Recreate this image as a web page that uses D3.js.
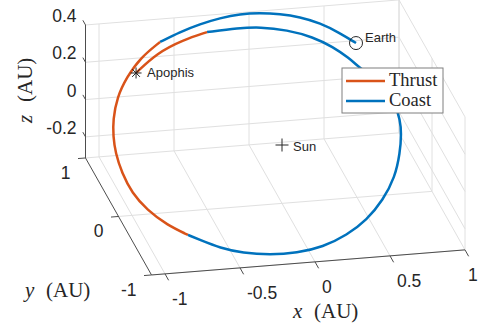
<!DOCTYPE html>
<html lang="en">
<head>
<meta charset="utf-8">
<title>Earth to Apophis transfer</title>
<script src="https://cdn.jsdelivr.net/npm/d3@7"></script>
<style>
  body { margin: 0; background: #fff; }
  svg { display: block; }
  .tick-label { font-family: "Liberation Sans", Arial, sans-serif; font-size: 17.5px; fill: #262626; }
  .body-label { font-family: "Liberation Sans", Arial, sans-serif; font-size: 13px; fill: #262626; }
  .tex { font-family: "Liberation Serif", "Times New Roman", serif; fill: #262626; }
</style>
</head>
<body>
<svg width="479" height="333"></svg>
<script>
// axis limits and ticks (AU)
const xLim = [-1.09, 1];
const yLim = [-1, 1];
const zLim = [-0.313, 0.4];
const xTicks = [-1, -0.5, 0, 0.5, 1];
const yTicks = [-1, 0, 1];
const zTicks = [-0.2, 0, 0.2, 0.4];
const xTickLabels = ["-1", "-0.5", "0", "0.5", "1"];
const yTickLabels = ["-1", "0", "1"];
const zTickLabels = ["-0.2", "0", "0.2", "0.4"];

// trajectory, [x, y, z] in AU
const coast1 = [[0.645,0.689,0.289],[0.556,0.770,0.323],[0.441,0.853,0.358],[0.319,0.907,0.381],
  [0.193,0.940,0.395],[0.064,0.959,0.403],[-0.068,0.963,0.405],[-0.205,0.946,0.397],
  [-0.345,0.915,0.384],[-0.489,0.869,0.365],[-0.635,0.808,0.340]];
const thrust1 = [[-0.635,0.808,0.340],[-0.791,0.705,0.296],[-0.907,0.576,0.242],[-1.003,0.439,0.184],
  [-1.066,0.276,0.116],[-1.090,0.160,0.067],[-1.102,0.038,0.016],[-1.091,-0.109,-0.046],
  [-1.057,-0.258,-0.108],[-0.985,-0.389,-0.163],[-0.878,-0.508,-0.213],[-0.757,-0.591,-0.248]];
const coast2 = [[-0.757,-0.591,-0.248],[-0.686,-0.634,-0.266],[-0.568,-0.703,-0.295],[-0.425,-0.752,-0.316],
  [-0.252,-0.782,-0.328],[-0.072,-0.783,-0.329],[0.107,-0.755,-0.317],[0.283,-0.683,-0.287],
  [0.437,-0.586,-0.246],[0.574,-0.452,-0.190],[0.689,-0.294,-0.124],[0.759,-0.125,-0.053],
  [0.800,0.017,0.007],[0.812,0.115,0.048],[0.805,0.221,0.093],[0.775,0.319,0.134],
  [0.712,0.420,0.176],[0.632,0.507,0.213],[0.575,0.585,0.246],[0.488,0.673,0.283],
  [0.373,0.757,0.318],[0.214,0.822,0.345],[0.042,0.859,0.361],[-0.100,0.864,0.362],
  [-0.312,0.853,0.358]];
const thrust2 = [[-0.312,0.853,0.358],[-0.482,0.810,0.340],[-0.673,0.731,0.307],[-0.841,0.600,0.252]];

const earthPos = [0.645, 0.689, 0.289];
const apophisPos = [-0.841, 0.600, 0.252];
const sunPos = [0, 0, 0];

const thrustColor = "#D95319", coastColor = "#0072BD";

const svg = d3.select("svg");

// orthographic view: each data axis maps to a 2D screen offset
const origin = [282, 145];
const sx = d3.scaleLinear().domain([-1, 1]).range([[-150, 12], [150, -12]]);
const sy = d3.scaleLinear().domain([-1, 1]).range([[33, 58.5], [-33, -58.5]]);
const sz = d3.scaleLinear().domain([0, 0.4]).range([[0, 0], [0, -74.6]]);

function proj(p) {
  const a = sx(p[0]).slice(), b = sy(p[1]).slice(), c = sz(p[2]).slice();
  return [origin[0] + a[0] + b[0] + c[0], origin[1] + a[1] + b[1] + c[1]];
}

function seg(g, p0, p1, color, w) {
  const a = proj(p0), b = proj(p1);
  g.append("line")
    .attr("x1", a[0]).attr("y1", a[1]).attr("x2", b[0]).attr("y2", b[1])
    .attr("stroke", color).attr("stroke-width", w);
}

// grid on the three back planes
const grid = svg.append("g");
const gridColor = "#e0e0e0";
xTicks.forEach(x => seg(grid, [x, yLim[0], zLim[0]], [x, yLim[1], zLim[0]], gridColor, 1));
yTicks.forEach(y => seg(grid, [xLim[0], y, zLim[0]], [xLim[1], y, zLim[0]], gridColor, 1));
xTicks.forEach(x => seg(grid, [x, yLim[1], zLim[0]], [x, yLim[1], zLim[1]], gridColor, 1));
zTicks.forEach(z => seg(grid, [xLim[0], yLim[1], z], [xLim[1], yLim[1], z], gridColor, 1));
yTicks.forEach(y => seg(grid, [xLim[1], y, zLim[0]], [xLim[1], y, zLim[1]], gridColor, 1));
zTicks.forEach(z => seg(grid, [xLim[1], yLim[0], z], [xLim[1], yLim[1], z], gridColor, 1));

// axes
const axes = svg.append("g");
const axColor = "#4d4d4d";
seg(axes, [xLim[0], yLim[0], zLim[0]], [xLim[1], yLim[0], zLim[0]], axColor, 1);
seg(axes, [xLim[0], yLim[0], zLim[0]], [xLim[0], yLim[1], zLim[0]], axColor, 1);
seg(axes, [xLim[0], yLim[1], zLim[0]], [xLim[0], yLim[1], zLim[1]], axColor, 1);

xTicks.forEach((x, i) => {
  seg(axes, [x, yLim[0], zLim[0]], [x, yLim[0] - 0.11, zLim[0]], axColor, 1);
  const p = proj([x, yLim[0], zLim[0]]);
  axes.append("text").attr("class", "tick-label")
    .attr("x", Math.min(p[0] + 7, 468)).attr("y", p[1] + 31).text(xTickLabels[i]);
});
yTicks.forEach((y, i) => {
  seg(axes, [xLim[0], y, zLim[0]], [xLim[0] - 0.05, y, zLim[0]], axColor, 1);
  const p = proj([xLim[0], y, zLim[0]]);
  axes.append("text").attr("class", "tick-label").attr("text-anchor", "end")
    .attr("x", p[0] - 15).attr("y", p[1] + 21).text(yTickLabels[i]);
});
zTicks.forEach((z, i) => {
  seg(axes, [xLim[0], yLim[1], z], [xLim[0], yLim[1] + 0.08, z], axColor, 1);
  const p = proj([xLim[0], yLim[1], z]);
  axes.append("text").attr("class", "tick-label").attr("text-anchor", "end")
    .attr("x", p[0] - 9).attr("y", p[1] - 3).text(zTickLabels[i]);
});

// axis titles
function axisTitle(x, y, rot, name) {
  const t = svg.append("text").attr("class", "tex").attr("font-size", 21)
    .attr("transform", `translate(${x},${y}) rotate(${rot})`);
  t.append("tspan").attr("x", 0).attr("font-style", "italic").text(name);
  t.append("tspan").attr("x", 21).text("(AU)");
}
axisTitle(293, 318, 0, "x");
axisTitle(25, 297, 0, "y");
axisTitle(32, 123, -90, "z");

// trajectory
const line = d3.line().x(d => proj(d)[0]).y(d => proj(d)[1]).curve(d3.curveBasis);
const traj = svg.append("g").attr("fill", "none").attr("stroke-width", 2.5).attr("stroke-linecap", "butt");
[[coast1, coastColor], [thrust1, thrustColor], [coast2, coastColor], [thrust2, thrustColor]]
  .forEach(([pts, c]) => traj.append("path").attr("d", line(pts)).attr("stroke", c));

// bodies
const marks = svg.append("g").attr("stroke", "#262626").attr("stroke-width", 1).attr("fill", "none");
const e = proj(earthPos);
marks.append("circle").attr("cx", e[0]).attr("cy", e[1]).attr("r", 6.5);
const s = proj(sunPos);
marks.append("path").attr("d", `M${s[0] - 6.5},${s[1]}H${s[0] + 6.5}M${s[0]},${s[1] - 6.5}V${s[1] + 6.5}`);
const ap = proj(apophisPos);
const r = 5.5, q = r * 0.7071;
marks.append("path").attr("d",
  `M${ap[0] - r},${ap[1]}H${ap[0] + r}M${ap[0]},${ap[1] - r}V${ap[1] + r}` +
  `M${ap[0] - q},${ap[1] - q}L${ap[0] + q},${ap[1] + q}M${ap[0] - q},${ap[1] + q}L${ap[0] + q},${ap[1] - q}`);

svg.append("text").attr("class", "body-label").attr("x", e[0] + 9).attr("y", e[1] - 1).text("Earth");
svg.append("text").attr("class", "body-label").attr("x", ap[0] + 11).attr("y", ap[1] + 4).text("Apophis");
svg.append("text").attr("class", "body-label").attr("x", s[0] + 11).attr("y", s[1] + 6).text("Sun");

// legend
const legendNames = ["Thrust", "Coast"];
const legendColors = [thrustColor, coastColor];
const lg = svg.append("g").attr("transform", "translate(342,68)");
lg.append("rect").attr("width", 101).attr("height", 45).attr("fill", "#fff")
  .attr("stroke", "#7f7f7f").attr("stroke-width", 1);
legendNames.forEach((n, i) => {
  lg.append("line").attr("x1", 4).attr("x2", 43).attr("y1", 13 + 20 * i).attr("y2", 13 + 20 * i)
    .attr("stroke", legendColors[i]).attr("stroke-width", 2.5);
  lg.append("text").attr("class", "tex").attr("font-size", 18.5)
    .attr("x", 47).attr("y", 18 + 20 * i).text(n);
});
</script>
</body>
</html>
